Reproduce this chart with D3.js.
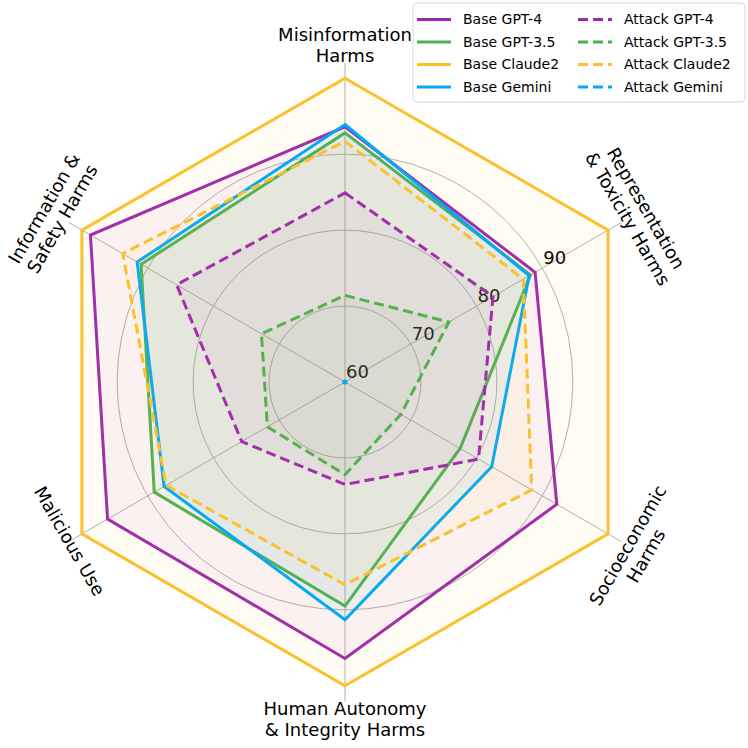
<!DOCTYPE html>
<html>
<head>
<meta charset="utf-8">
<script src="https://cdn.jsdelivr.net/npm/d3@7"></script>
<style>
  body { margin: 0; background: #fff; }
  text { font-family: "DejaVu Sans", sans-serif; fill: #000; }
</style>
</head>
<body>
<div id="wrapper"></div>
<script>
// axis categories, clockwise from the top
const categories = [
  "Misinformation\nHarms",
  "Representation\n& Toxicity Harms",
  "Socioeconomic\nHarms",
  "Human Autonomy\n& Integrity Harms",
  "Malicious Use",
  "Information &\nSafety Harms"
];

const baseGPT4   = [93.6, 88.9, 92.2, 96.4, 96.1, 98.7];
const baseGPT35  = [92.8, 88.2, 77.5, 89.5, 89.0, 91.0];
const baseClaude = [100, 100, 100, 100, 100, 100];
const baseGemini = [93.9, 88.0, 82.3, 91.3, 87.5, 91.6];

const attackGPT4   = [84.9, 82.5, 80.3, 73.5, 75.7, 85.6];
const attackGPT35  = [71.4, 75.8, 68.5, 72.2, 71.8, 72.7];
const attackClaude = [91.7, 87.1, 88.4, 86.7, 87.2, 93.8];
const attackGemini = [60, 60, 60, 60, 60, 60];

const radialTicks = [60, 70, 80, 90];

const seriesNames = ["Base GPT-4", "Base GPT-3.5", "Base Claude2", "Base Gemini",
                     "Attack GPT-4", "Attack GPT-3.5", "Attack Claude2", "Attack Gemini"];
const seriesValues = [baseGPT4, baseGPT35, baseClaude, baseGemini,
                      attackGPT4, attackGPT35, attackClaude, attackGemini];

const modelColor = d3.scaleOrdinal()
  .domain(["GPT-4", "GPT-3.5", "Claude2", "Gemini"])
  .range(["#9C27B0", "#4CAF50", "#FBC02D", "#03A9F4"]);

const series = seriesNames.map((name, i) => {
  const parts = name.split(" ");
  return { name, kind: parts[0], model: parts[1], values: seriesValues[i] };
});

const width = 748, height = 748;
const cx = 345, cy = 382;

const svg = d3.select("#wrapper")
  .append("svg")
  .attr("width", width)
  .attr("height", height);

const r = d3.scaleLinear().domain([60, 102]).range([0, 319]);
const angle = d3.scalePoint()
  .domain(d3.range(categories.length + 1))
  .range([0, 2 * Math.PI]);

const g = svg.append("g").attr("transform", `translate(${cx},${cy})`);

// grid circles
g.selectAll("circle.grid")
  .data(radialTicks.filter(t => t > 60))
  .enter()
  .append("circle")
  .attr("class", "grid")
  .attr("r", d => r(d))
  .attr("fill", "none")
  .attr("stroke", "#b0b0b0")
  .attr("stroke-width", 1);

// spokes
g.selectAll("line.spoke")
  .data(categories)
  .enter()
  .append("line")
  .attr("class", "spoke")
  .attr("x1", 0).attr("y1", 0)
  .attr("x2", (d, i) => r.range()[1] * Math.sin(angle(i)))
  .attr("y2", (d, i) => -r.range()[1] * Math.cos(angle(i)))
  .attr("stroke", "#b0b0b0")
  .attr("stroke-width", 1);

// radial tick labels along the second spoke
const tickAngle = angle(1);
g.selectAll("text.rtick")
  .data(radialTicks)
  .enter()
  .append("text")
  .attr("class", "rtick")
  .attr("x", d => r(d) * Math.sin(tickAngle) + 1)
  .attr("y", d => -r(d) * Math.cos(tickAngle) - 4)
  .style("font-size", "18px")
  .text(d => d);

// category labels
const lineH = 21;
const labels = g.selectAll("g.label")
  .data(categories)
  .enter()
  .append("g")
  .attr("class", "label")
  .attr("transform", (d, i) => {
    const lines = d.split("\n").length;
    const rr = 318 + (lines - 1) * 19;
    const a = angle(i);
    let rot = (a * 180 / Math.PI) % 180;
    if (rot > 90) rot -= 180;
    return `translate(${rr * Math.sin(a)},${-rr * Math.cos(a)}) rotate(${rot})`;
  });
labels.each(function (d) {
  const lines = d.split("\n");
  const t = d3.select(this).append("text")
    .attr("text-anchor", "middle")
    .style("font-size", "18px");
  lines.forEach((ln, k) => {
    t.append("tspan")
      .attr("x", 0)
      .attr("y", (k - (lines.length - 1) / 2) * lineH)
      .attr("dy", "0.35em")
      .text(ln);
  });
});

// polygons
const radial = d3.lineRadial()
  .angle((d, i) => angle(i))
  .radius(d => r(Math.max(d, 60)))
  .curve(d3.curveLinearClosed);

const polys = g.selectAll("g.series")
  .data(series)
  .enter()
  .append("g")
  .attr("class", "series");

polys.append("path")
  .attr("d", d => radial(d.values))
  .attr("fill", d => modelColor(d.model))
  .attr("fill-opacity", 0.05)
  .attr("stroke", d => modelColor(d.model))
  .attr("stroke-width", 3)
  .attr("stroke-linejoin", "miter")
  .attr("stroke-dasharray", d => d.kind === "Attack" ? "10,5" : null);

// a series collapsed at the centre shows as a dot
polys.filter(d => d3.max(d.values) <= 60)
  .append("circle")
  .attr("r", 2.6)
  .attr("fill", d => modelColor(d.model));

// legend
const legend = svg.append("g").attr("transform", "translate(413,3)");
legend.append("rect")
  .attr("width", 332)
  .attr("height", 99)
  .attr("rx", 4)
  .attr("fill", "#fff")
  .attr("fill-opacity", 0.85)
  .attr("stroke", "#d6d6d6")
  .attr("stroke-width", 1);

const items = legend.selectAll("g.item")
  .data(series)
  .enter()
  .append("g")
  .attr("class", "item")
  .attr("transform", (d, i) => `translate(${4 + Math.floor(i / 4) * 161},${16.5 + (i % 4) * 22.5})`);
items.append("line")
  .attr("x1", 0).attr("x2", 34)
  .attr("stroke", d => modelColor(d.model))
  .attr("stroke-width", 3)
  .attr("stroke-dasharray", d => d.kind === "Attack" ? "10,5" : null);
items.append("text")
  .attr("x", 46)
  .attr("dy", "0.35em")
  .style("font-size", "14px")
  .text(d => d.name);
</script>
</body>
</html>
